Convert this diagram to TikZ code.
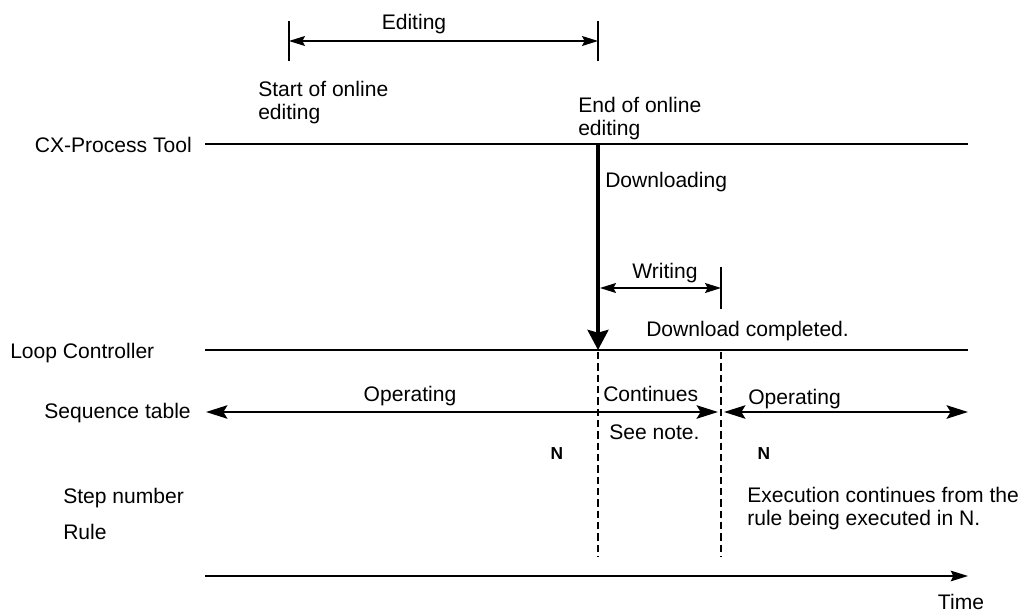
\documentclass[tikz,border=0pt]{standalone}
\usepackage{fontspec}
\setmainfont{Liberation Sans}
\usetikzlibrary{arrows.meta}
\tikzset{
  lbl/.style={inner sep=0pt, font=\fontsize{15.8}{17}\selectfont, align=left},
  nlbl/.style={inner sep=0pt, font=\fontsize{13}{14}\selectfont\bfseries},
  mainline/.style={line width=1.9pt},
  dimline/.style={line width=0.9pt},
  tickline/.style={line width=0.9pt},
  timeline/.style={line width=1.2pt,-{Stealth[length=13pt,width=8pt,inset=2pt]}},
  smallboth/.style={{Stealth[length=12pt,width=7.5pt,inset=2pt]}-{Stealth[length=12pt,width=7.5pt,inset=2pt]}},
  bigboth/.style={{Stealth[length=16pt,width=10pt,inset=3pt]}-{Stealth[length=16pt,width=10pt,inset=3pt]}},
  dlarrow/.style={line width=3pt,-{Stealth[length=15pt,width=15.5pt,inset=2pt]}},
  dashA/.style={line width=1.5pt,dash pattern=on 5.5pt off 3pt},
  dashB/.style={line width=0.9pt,dash pattern=on 5.5pt off 3pt},
}
\begin{document}
\begin{tikzpicture}[x=0.75pt,y=-0.75pt]
\useasboundingbox (0,0) rectangle (1022,614);

% coordinates
\coordinate (eA1) at (289,21);
\coordinate (eA2) at (289,61);
\coordinate (eB1) at (598,21);
\coordinate (eB2) at (598,61);
\coordinate (eL) at (289,41);
\coordinate (eR) at (598,41);

\coordinate (cxL) at (205,144);
\coordinate (cxR) at (968,144);
\coordinate (dlT) at (598,144);
\coordinate (dlB) at (598,350);
\coordinate (lcL) at (205,350);
\coordinate (lcR) at (968,350);

\coordinate (wL) at (600,288);
\coordinate (wR) at (721,288);
\coordinate (wT1) at (721,267);
\coordinate (wT2) at (721,309);

\coordinate (sqL) at (206,412);
\coordinate (sqM1) at (718,412);
\coordinate (sqM2) at (724,412);
\coordinate (sqR) at (968,412);

\coordinate (dA1) at (598,352);
\coordinate (dA2) at (598,557);
\coordinate (dB1) at (721,352);
\coordinate (dB2) at (721,557);

\coordinate (tL) at (205,576);
\coordinate (tR) at (968,576);

% labels
\node[lbl,anchor=base] (editing) at (414,29) {Editing};
\node[lbl,anchor=base west] (start) at (258,119) {Start of online\\editing};
\node[lbl,anchor=base west] (endo) at (578,135) {End of online\\editing};
\node[lbl,anchor=base east] (cx) at (192,152) {CX-Process Tool};
\node[lbl,anchor=base west] (down) at (605,187) {Downloading};
\node[lbl,anchor=base] (writing) at (665,278) {Writing};
\node[lbl,anchor=base west] (dcomp) at (646,336) {Download completed.};
\node[lbl,anchor=base west] (lc) at (10,358) {Loop Controller};
\node[lbl,anchor=base] (op1) at (410,401) {Operating};
\node[lbl,anchor=base west] (cont) at (603,401) {Continues};
\node[lbl,anchor=base west] (op2) at (748,404) {Operating};
\node[lbl,anchor=base east] (seq) at (191,418) {Sequence table};
\node[lbl,anchor=base west] (note) at (609,439) {See note.};
\node[nlbl,anchor=base] (n1) at (557,459) {N};
\node[nlbl,anchor=base] (n2) at (764,459) {N};
\node[lbl,anchor=base west] (step) at (63,503) {Step number};
\node[lbl,anchor=base west] (rule) at (63,539) {Rule};
\node[lbl,anchor=base west] (exec) at (747,525) {Execution continues from the\\rule being executed in N.};
\node[lbl,anchor=base] (time) at (961,609) {Time};

% editing dimension
\draw[tickline] (eA1) -- (eA2);
\draw[tickline] (eB1) -- (eB2);
\draw[dimline,smallboth] (eL) -- (eR);

% main lines
\draw[mainline] (cxL) -- (cxR);
\draw[mainline] (lcL) -- (lcR);
\draw[dlarrow] (dlT) -- (dlB);

% writing dimension
\draw[tickline] (wT1) -- (wT2);
\draw[dimline,smallboth] (wL) -- (wR);

% sequence table
\draw[mainline,bigboth] (sqL) -- (sqM1);
\draw[mainline,bigboth] (sqM2) -- (sqR);

% dashed
\draw[dashA] (dA1) -- (dA2);
\draw[dashB] (dB1) -- (dB2);

% time
\draw[timeline] (tL) -- (tR);
\end{tikzpicture}
\end{document}
